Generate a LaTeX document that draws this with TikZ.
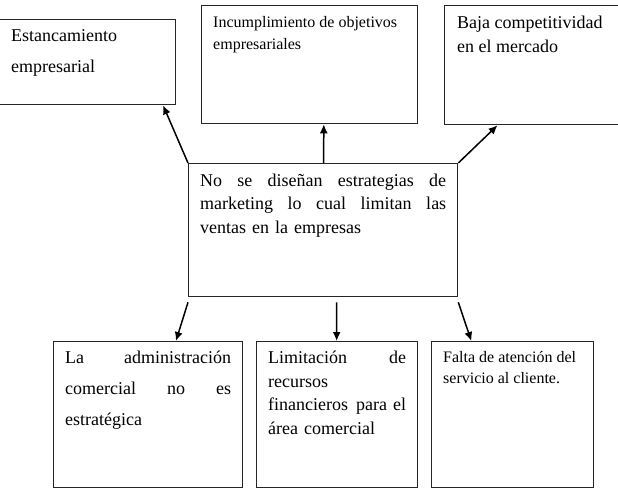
\documentclass[tikz,border=0pt]{standalone}
\usepackage{fontspec}
\setmainfont{Liberation Serif}
\usetikzlibrary{arrows.meta,calc}
\hyphenpenalty=10000
\exhyphenpenalty=10000
\tolerance=10000
\tikzset{
  box/.style={draw=black!85, line width=1.3pt, inner sep=0pt, anchor=north west},
  txt/.style={inner sep=0pt, anchor=north west, align=left},
  arr/.style={line width=1.5pt, -{Latex[length=9pt,width=8pt]}}
}
\begin{document}
\begin{tikzpicture}[x=1pt,y=-1pt]
\useasboundingbox (0,0) rectangle (618,493);
% boxes
\node[box, minimum width=177, minimum height=85] (e1) at (-2,19) {};
\node[box, minimum width=216, minimum height=118] (e2) at (201,5) {};
\node[box, minimum width=173.5, minimum height=119] (e3) at (444,5) {};
\node[box, minimum width=269, minimum height=133] (c) at (188,163) {};
\node[box, minimum width=189, minimum height=146] (b1) at (53,341) {};
\node[box, minimum width=161, minimum height=146] (b2) at (256,341) {};
\node[box, minimum width=162, minimum height=146] (b3) at (431,341) {};
% texts
\node[txt, font=\fontsize{18}{31}\selectfont] (t1) at (11,29.4) {Estancamiento\\empresarial};
\node[txt, font=\fontsize{16}{22}\selectfont] (t2) at (213,16.4) {Incumplimiento de objetivos\\empresariales};
\node[txt, font=\fontsize{18}{24}\selectfont] (t3) at (457,16) {Baja competitividad\\en el mercado};
\node[txt, text width=246, font=\fontsize{18}{23.5}\selectfont] (tc) at (200,173.4)
  {No\hfill se\hfill diseñan\hfill estrategias\hfill de\\marketing\hfill lo\hfill cual\hfill limitan\hfill las\\ventas en la empresas};
\node[txt, text width=166, font=\fontsize{18}{31}\selectfont] (t4) at (65,351)
  {La\hfill administración\\comercial\hfill no\hfill es\\estratégica};
\node[txt, text width=138, font=\fontsize{18}{23.5}\selectfont] (t5) at (268,351)
  {Limitación\hfill de\\recursos\\financieros\hfill para el\\área comercial};
\node[txt, font=\fontsize{16}{21.7}\selectfont] (t6) at (443,350.8) {Falta de atención del\\servicio al cliente.};
% arrows up
\draw[arr] (c.north west) -- ($(e1.south west)!0.926!(e1.south east)$);
\draw[arr] ($(c.north west)!0.502!(c.north east)$) -- ($(e2.south west)!0.565!(e2.south east)$);
\draw[arr] (c.north east) -- ($(e3.south west)!0.306!(e3.south east)$);
% arrows down
\draw[arr] ($(c.south west)+(0,5)$) -- ($(b1.north west)!0.646!(b1.north east)$);
\draw[arr] ($(c.south west)!0.55!(c.south east)+(0,5)$) -- ($(b2.north west)!0.497!(b2.north east)$);
\draw[arr] ($(c.south east)+(0,5)$) -- ($(b3.north west)!0.247!(b3.north east)$);
\end{tikzpicture}
\end{document}
